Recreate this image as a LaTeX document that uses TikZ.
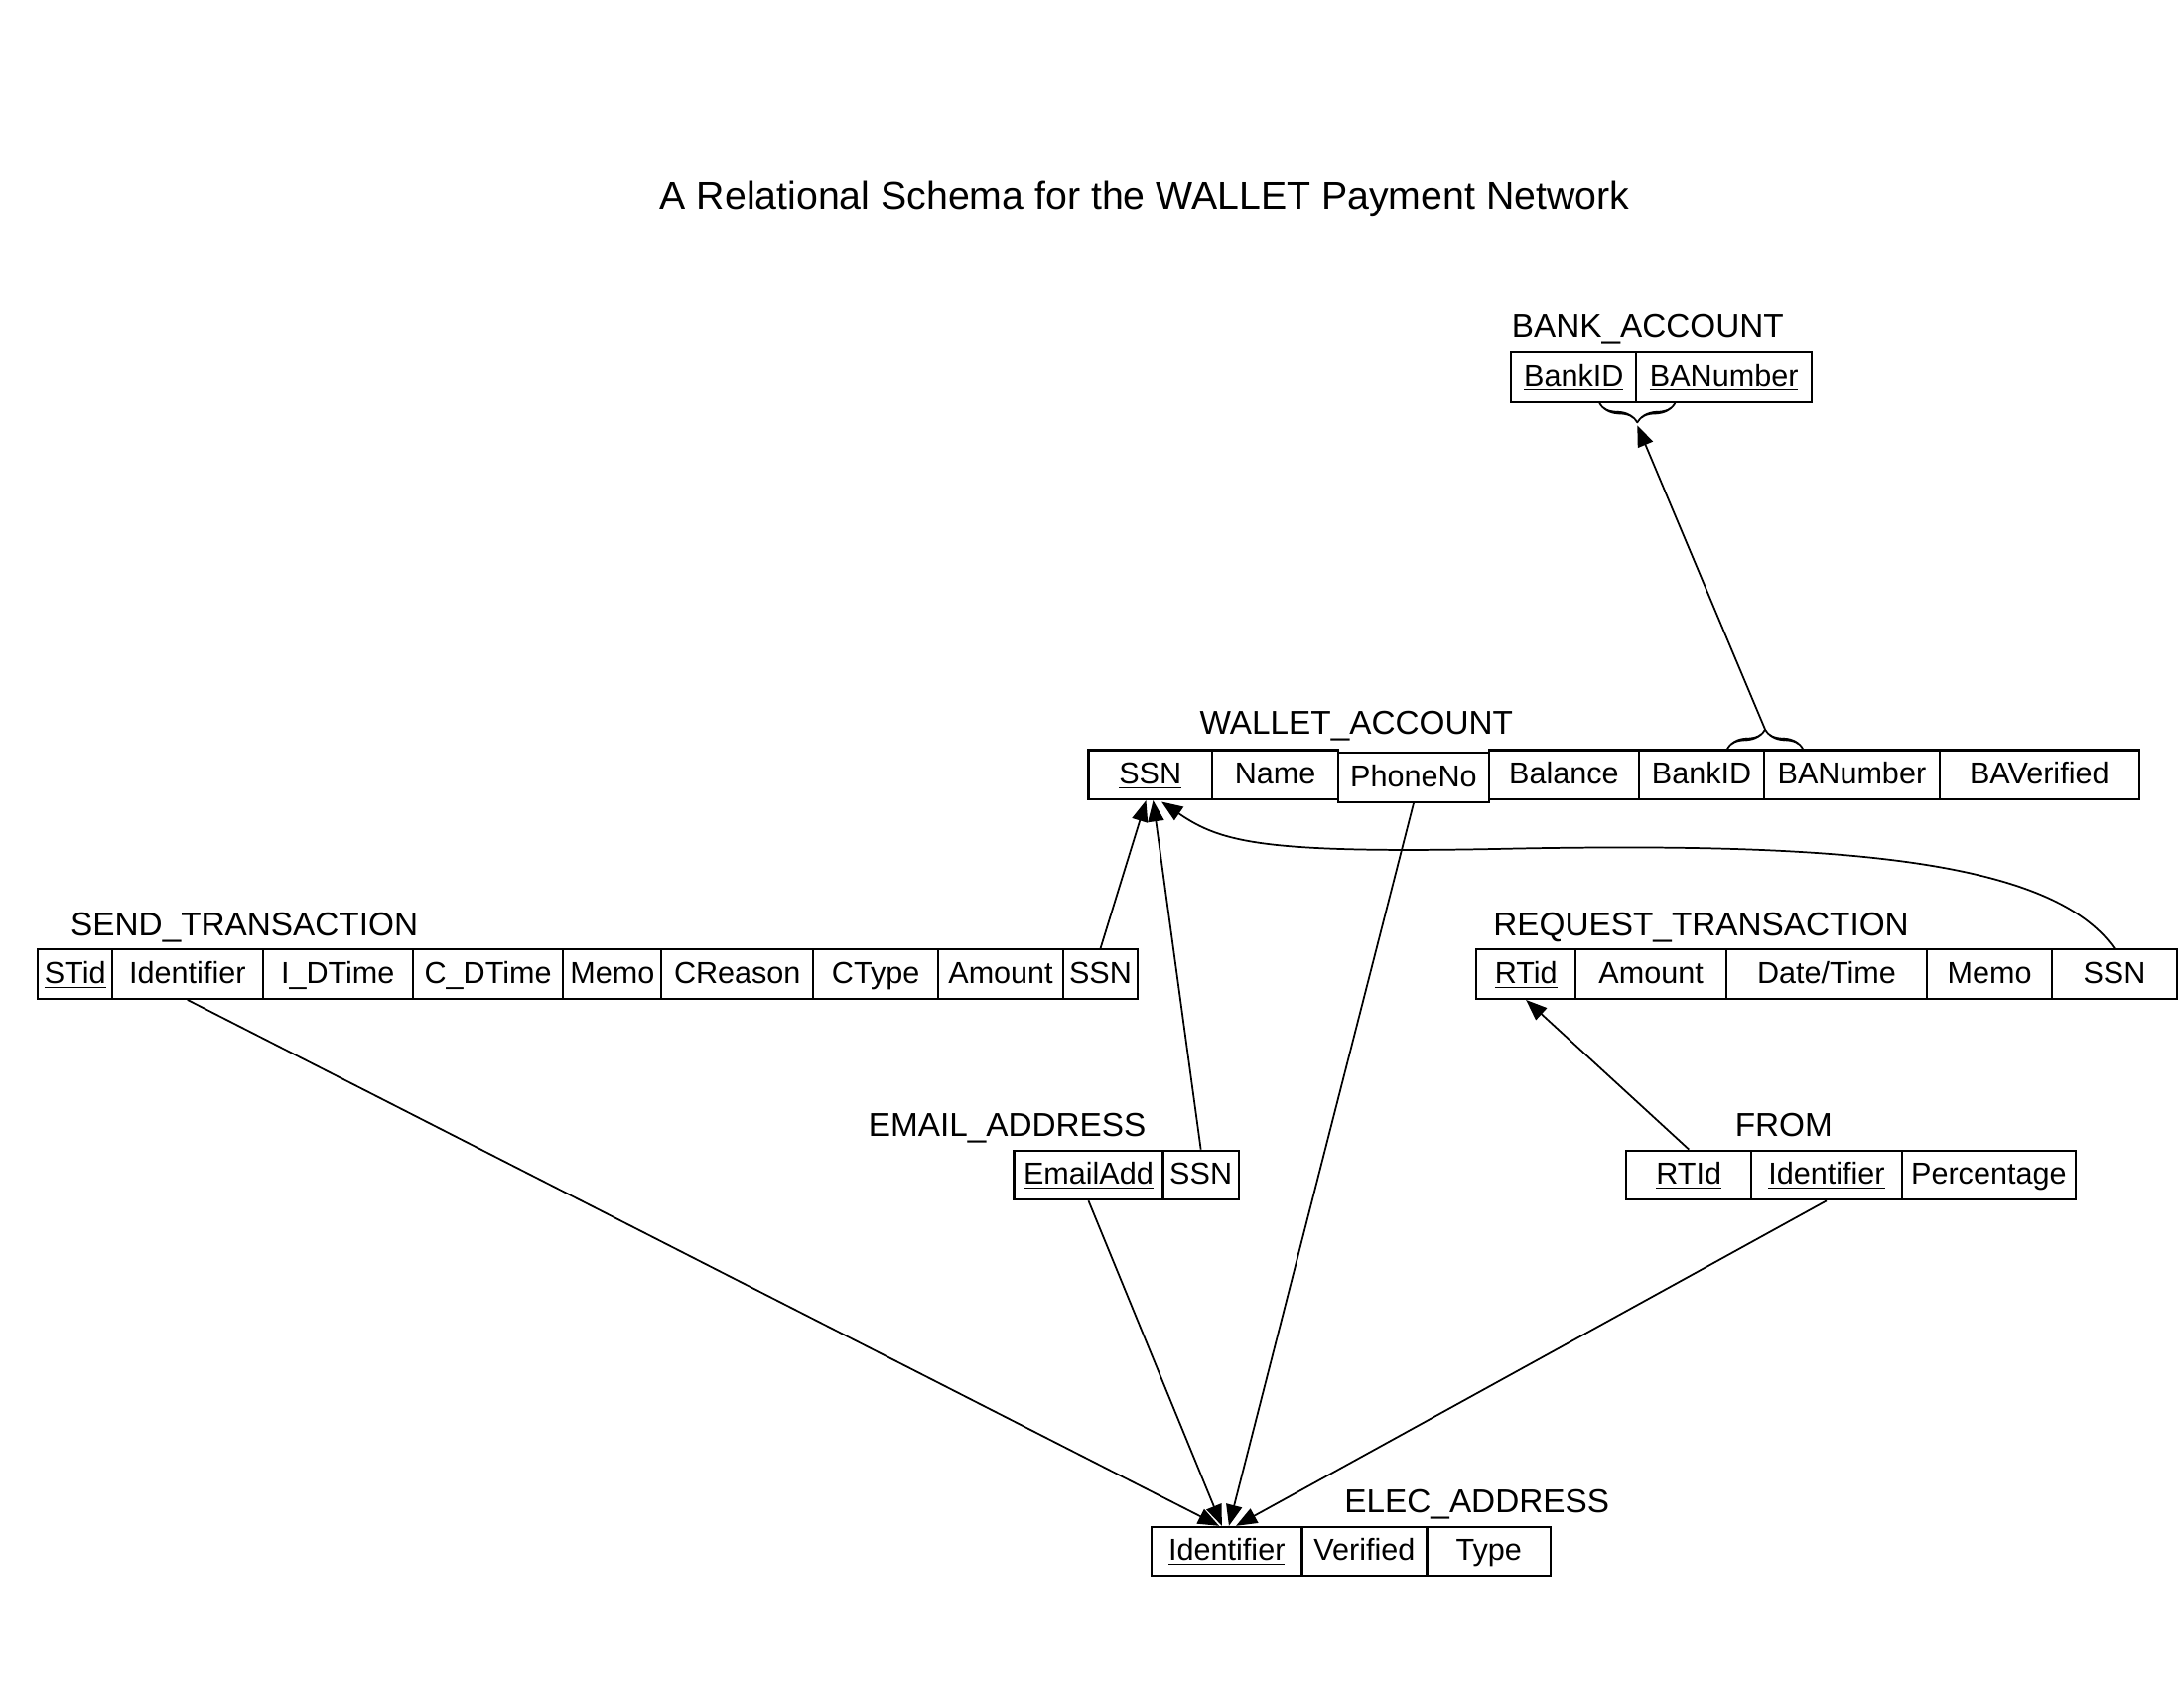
\documentclass[tikz,border=0pt]{standalone}
\usepackage{fontspec}
\setmainfont{Liberation Sans}
\usetikzlibrary{arrows.meta,decorations.pathreplacing,calligraphy}

\begin{document}
\begin{tikzpicture}
  [x=0.2mm,y=-0.2mm,
   cell/.style={draw,line width=0.85pt,minimum height=7mm,inner sep=0pt,text height=1.9ex,text depth=0.5ex,
     font=\fontsize{12.3}{14}\selectfont},
   relname/.style={anchor=base west,inner sep=0pt,font=\fontsize{13.4}{16}\selectfont},
   fk/.style={line width=0.7pt,-{Triangle[length=3mm,width=2.3mm]}},
   keybrace/.style={line width=1.3pt,decorate,decoration={calligraphic brace,amplitude=2.8mm}}]
  \useasboundingbox (0,0) rectangle (1555,1200);

  \node[anchor=base,inner sep=0pt,font=\fontsize{15.8}{18}\selectfont] (title) at (815,149)
    {A Relational Schema for the WALLET Payment Network};

  \node[relname] (bankname) at (1076,240) {BANK\_ACCOUNT};
  \node[relname] (walletname) at (854,523) {WALLET\_ACCOUNT};
  \node[relname] (sendname) at (50,666) {SEND\_TRANSACTION};
  \node[relname] (requestname) at (1063,666) {REQUEST\_TRANSACTION};
  \node[relname] (emailname) at (618,809) {EMAIL\_ADDRESS};
  \node[relname] (fromname) at (1235,809) {FROM};
  \node[relname] (elecname) at (957,1077) {ELEC\_ADDRESS};

  % attribute cells: name / left / right / middle / text
  \foreach \n/\a/\b/\y/\t in {
      ba1/1076/1165/268.5/\underline{BankID}, ba2/1165/1290/268.5/\underline{BANumber},
      wa1/775/863/551.5/\underline{SSN}, wa2/863/953/551.5/Name, wa3/953/1060/553.5/PhoneNo,
      wa4/1060/1167/551.5/Balance, wa5/1167/1256/551.5/BankID, wa6/1256/1381/551.5/BANumber,
      wa7/1381/1523/551.5/BAVerified,
      st1/27/80/693.5/\underline{STid}, st2/80/187/693.5/Identifier, st3/187/294/693.5/I\_DTime,
      st4/294/401/693.5/C\_DTime, st5/401/471/693.5/Memo, st6/471/579/693.5/CReason,
      st7/579/668/693.5/CType, st8/668/757/693.5/Amount, st9/757/810/693.5/SSN,
      rt1/1051/1122/693.5/\underline{RTid}, rt2/1122/1229/693.5/Amount, rt3/1229/1372/693.5/{Date/Time},
      rt4/1372/1461/693.5/Memo, rt5/1461/1550/693.5/SSN,
      em1/722/828/836.5/\underline{EmailAdd}, em2/828/882/836.5/SSN,
      fr1/1158/1247/836.5/\underline{RTId}, fr2/1247/1354/836.5/\underline{Identifier}, fr3/1354/1478/836.5/Percentage,
      el1/820/927/1104.5/\underline{Identifier}, el2/927/1016/1104.5/Verified, el3/1016/1104/1104.5/Type}
    \node[cell,minimum width=(\b-\a)*0.2mm] (\n) at ({(\a+\b)/2},\y) {\t};

  \draw[keybrace] ([xshift=5.4mm]ba1.south east) -- ([xshift=-5.4mm]ba1.south east);
  \draw[keybrace] ([xshift=-5.4mm]wa5.north east) -- ([xshift=5.4mm]wa5.north east);
  \coordinate (banktip) at ([yshift=-3.2mm]ba1.south east);
  \coordinate (wallettip) at ([yshift=2.8mm]wa5.north east);
  \draw[fk] (wallettip) -- (banktip);

  \coordinate (ssnA) at ([xshift=-0.6mm]wa1.south);
  \coordinate (ssnB) at ([xshift=0.4mm]wa1.south);
  \coordinate (ssnC) at ([xshift=1.6mm,yshift=-0.2mm]wa1.south);
  \draw[fk] (st9.north) -- (ssnA);
  \draw[fk] (em2.north) -- (ssnB);
  \draw[fk] (rt5.north) .. controls (1460,610) and (1300,600) .. (1080,604)
    .. controls (900,608) and (870,600) .. (ssnC);

  \coordinate (idA) at ([xshift=-1.1mm]el1.north);
  \coordinate (idB) at ([xshift=-0.7mm]el1.north);
  \coordinate (idC) at ([xshift=0.3mm]el1.north);
  \coordinate (idD) at ([xshift=1.3mm]el1.north);
  \foreach \from/\to in {st2.south/idA,em1.south/idB,wa3.south/idC,fr2.south/idD,fr1.north/rt1.south}
    \draw[fk] (\from) -- (\to);

\end{tikzpicture}
\end{document}
